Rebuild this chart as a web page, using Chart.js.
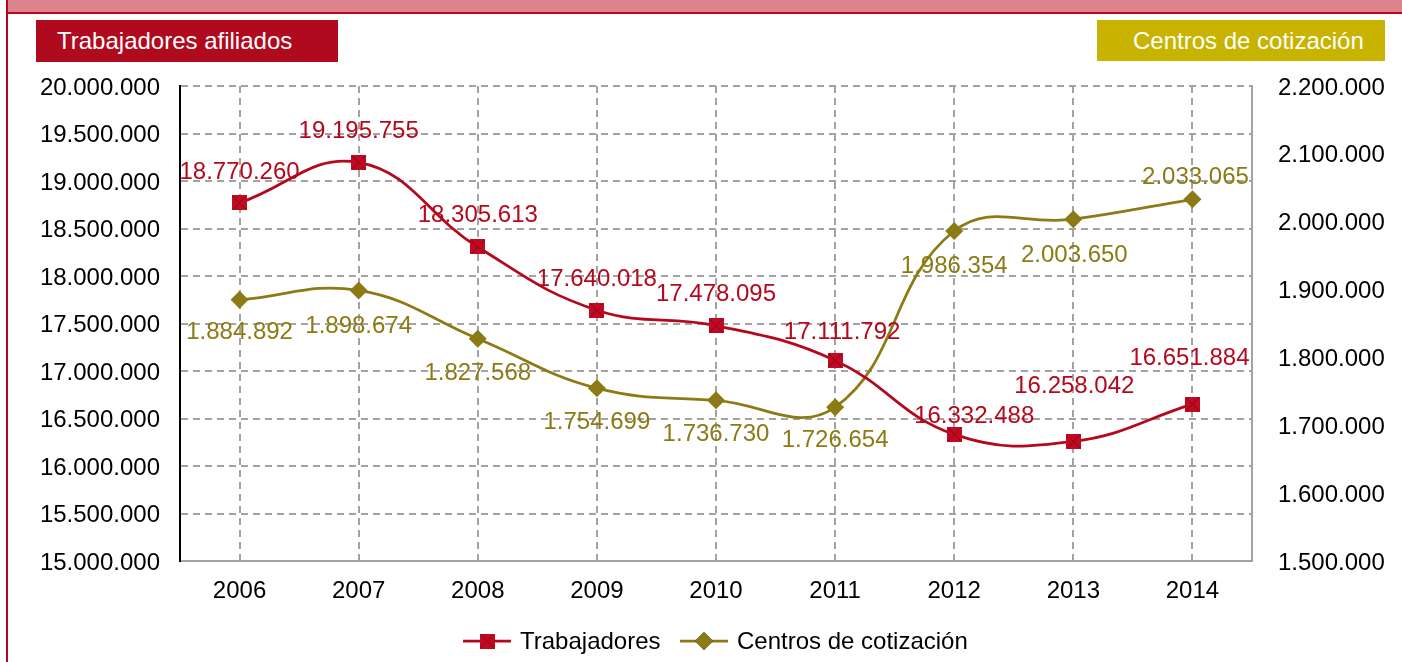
<!DOCTYPE html>
<html>
<head>
<meta charset="utf-8">
<script src="https://cdn.jsdelivr.net/npm/chart.js@4.4.1/dist/chart.umd.min.js"></script>
<style>
  html, body { margin: 0; padding: 0; background: #ffffff; }
  #wrap { position: relative; width: 1402px; height: 662px; overflow: hidden; }
  #c { position: absolute; left: 0; top: 0; }
  .band { position: absolute; left: 8px; top: 0; width: 1394px; height: 12px; background: #DB848C; }
  .bandline { position: absolute; left: 6px; top: 12px; width: 1396px; height: 2px; background: #B5081C; }
  .leftline { position: absolute; left: 6px; top: 0; width: 2px; height: 662px; background: #B5081C; }
  .box { position: absolute; top: 20px; height: 42px; color: #ffffff; font-family: "Liberation Sans", Arial, sans-serif;
         font-size: 24px; line-height: 42px; box-sizing: border-box; white-space: nowrap; }
  #boxL { left: 36px; width: 302px; background: #B00A1E; padding-left: 21px; }
  #boxR { left: 1097px; width: 288px; background: #C8B400; padding-left: 36px; height: 41px; line-height: 41px; }
</style>
</head>
<body>
<div id="wrap">
  <canvas id="c" width="1402" height="662"></canvas>
  <div class="band"></div>
  <div class="bandline"></div>
  <div class="leftline"></div>
  <div class="box" id="boxL">Trabajadores afiliados</div>
  <div class="box" id="boxR">Centros de cotización</div>
</div>
<script>
// ---- data ----
const years = ['2006', '2007', '2008', '2009', '2010', '2011', '2012', '2013', '2014'];
const trabajadores = [18770260, 19195755, 18305613, 17640018, 17478095, 17111792, 16332488, 16258042, 16651884];
const centros = [1884892, 1898674, 1827568, 1754699, 1736730, 1726654, 1986354, 2003650, 2033065];
const seriesNames = ['Trabajadores', 'Centros de cotización'];
const leftTicks = { min: 15000000, max: 20000000, step: 500000 };
const rightTicks = { min: 1500000, max: 2200000, step: 100000 };

// ---- label placement (pixel offsets of value labels relative to their point) ----
const offT = [[0,-30],[0,-31],[0,-32],[0,-31],[0,-31],[7,-28],[20,-18],[1,-55],[-3,-46]];
const offC = [[0,33],[0,36],[0,35],[0,34],[0,34],[0,33],[0,35],[1,36],[3,-22]];

const RED = '#B5081C';
const RED_FILL = '#C00A22';
const OLIVE = '#8C7A14';
const GRID = '#A3A3A3';
const FONT = '"Liberation Sans", Arial, sans-serif';

function fmt(v) {
  return String(Math.round(v)).replace(/\B(?=(\d{3})+(?!\d))/g, '.');
}

// square marker with a darker cross
function makeSquare() {
  const s = 15;
  const cv = document.createElement('canvas');
  cv.width = s; cv.height = s;
  const g = cv.getContext('2d');
  g.fillStyle = RED_FILL;
  g.fillRect(0, 0, s, s);
  g.strokeStyle = '#8E0014';
  g.lineWidth = 1;
  g.beginPath();
  g.moveTo(1, 1); g.lineTo(s - 1, s - 1);
  g.moveTo(s - 1, 1); g.lineTo(1, s - 1);
  g.stroke();
  return cv;
}
const squareImg = makeSquare();

const valueLabels = {
  id: 'valueLabels',
  afterDatasetsDraw(chart) {
    const ctx = chart.ctx;
    ctx.save();
    ctx.font = '24px ' + FONT;
    ctx.textAlign = 'center';
    ctx.textBaseline = 'middle';
    const sets = [[0, trabajadores, offT, RED], [1, centros, offC, OLIVE]];
    sets.forEach(([di, vals, offs, col]) => {
      const meta = chart.getDatasetMeta(di);
      ctx.fillStyle = col;
      meta.data.forEach((pt, i) => {
        ctx.fillText(fmt(vals[i]), pt.x + offs[i][0], pt.y + offs[i][1]);
      });
    });
    ctx.restore();
  }
};

const customLegend = {
  id: 'customLegend',
  afterDraw(chart) {
    const ctx = chart.ctx;
    const y = 641;
    ctx.save();
    ctx.font = '24px ' + FONT;
    ctx.textBaseline = 'middle';
    ctx.textAlign = 'left';
    const items = [
      { name: seriesNames[0], color: RED, x0: 463, type: 'sq' },
      { name: seriesNames[1], color: OLIVE, x0: 680, type: 'dm' }
    ];
    items.forEach(it => {
      ctx.strokeStyle = it.color;
      ctx.lineWidth = 2.75;
      ctx.beginPath();
      ctx.moveTo(it.x0, y); ctx.lineTo(it.x0 + 48, y);
      ctx.stroke();
      const cx = it.x0 + 24;
      if (it.type === 'sq') {
        ctx.drawImage(squareImg, cx - 7.5, y - 7.5);
      } else {
        Chart.helpers.drawPoint(ctx, { pointStyle: 'rectRot', radius: 9, rotation: 0, borderWidth: 0 }, cx, y);
        ctx.fillStyle = it.color;
        ctx.fill();
      }
      ctx.fillStyle = '#000000';
      ctx.fillText(it.name, it.x0 + 57, y + 1);
    });
    ctx.restore();
  }
};

const gridCommon = { color: GRID, lineWidth: 2, drawTicks: false, tickLength: 0 };

new Chart(document.getElementById('c'), {
  type: 'line',
  data: {
    labels: years,
    datasets: [
      {
        label: seriesNames[0],
        data: trabajadores,
        yAxisID: 'y',
        borderColor: RED,
        backgroundColor: RED_FILL,
        borderWidth: 2.75,
        pointStyle: squareImg,
        pointRadius: 8,
        tension: 0.42,
        order: 1
      },
      {
        label: seriesNames[1],
        data: centros,
        yAxisID: 'y1',
        borderColor: OLIVE,
        backgroundColor: OLIVE,
        pointBackgroundColor: OLIVE,
        pointBorderColor: OLIVE,
        borderWidth: 2.75,
        pointStyle: 'rectRot',
        pointRadius: 9,
        pointBorderWidth: 0,
        tension: 0.42,
        order: 2
      }
    ]
  },
  options: {
    responsive: false,
    animation: false,
    devicePixelRatio: 1,
    layout: { padding: { top: 86, left: 0, right: 0, bottom: 0 } },
    plugins: { legend: { display: false }, tooltip: { enabled: false }, title: { display: false } },
    scales: {
      x: {
        type: 'category',
        offset: true,
        grid: Object.assign({}, gridCommon, { offset: false }),
        border: { display: true, color: GRID, width: 2, dash: [7, 5] },
        ticks: { color: '#000000', font: { family: FONT, size: 24 }, padding: 16, maxRotation: 0 },
        afterFit(s) { s.height = 101; }
      },
      y: {
        position: 'left',
        min: leftTicks.min, max: leftTicks.max,
        grid: Object.assign({}, gridCommon),
        border: { display: true, color: '#000000', width: 2, dash: [7, 5] },
        ticks: { stepSize: leftTicks.step, color: '#000000', font: { family: FONT, size: 24 }, padding: 20,
                 labelOffset: 2, callback: v => fmt(v) },
        afterFit(s) { s.width = 180; }
      },
      y1: {
        position: 'right',
        min: rightTicks.min, max: rightTicks.max,
        grid: { display: false, drawOnChartArea: false, drawTicks: false },
        border: { display: true, color: GRID, width: 2 },
        ticks: { stepSize: rightTicks.step, color: '#000000', font: { family: FONT, size: 24 }, padding: 26,
                 labelOffset: 2, callback: v => fmt(v) },
        afterFit(s) { s.width = 150; }
      }
    }
  },
  plugins: [valueLabels, customLegend]
});
</script>
</body>
</html>
